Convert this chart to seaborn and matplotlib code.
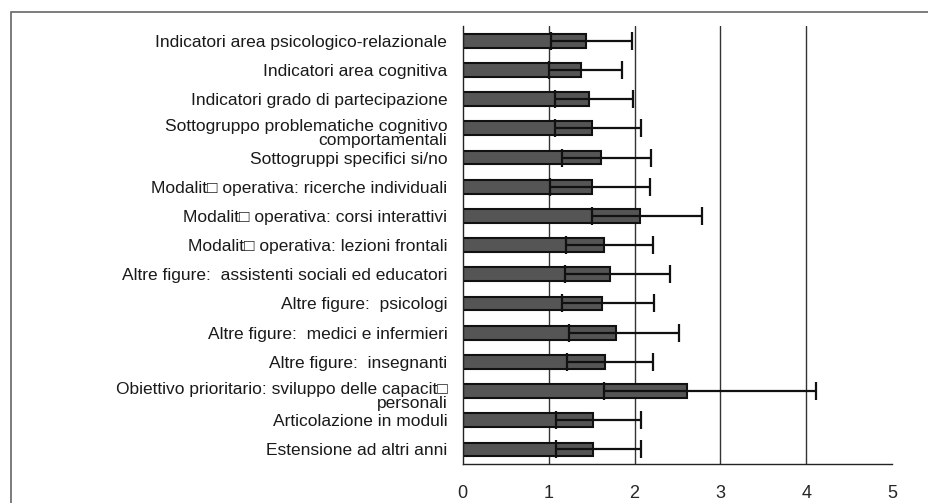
import numpy as np
import pandas as pd
import matplotlib
matplotlib.use("Agg")
import matplotlib.pyplot as plt
from matplotlib.patches import Rectangle
from matplotlib.transforms import ScaledTranslation
import seaborn as sns

# dati
categorie = [
    "Indicatori area psicologico-relazionale",
    "Indicatori area cognitiva",
    "Indicatori grado di partecipazione",
    "Sottogruppo problematiche cognitivo\ncomportamentali",
    "Sottogruppi specifici si/no",
    "Modalit\u25a1 operativa: ricerche individuali",
    "Modalit\u25a1 operativa: corsi interattivi",
    "Modalit\u25a1 operativa: lezioni frontali",
    "Altre figure:  assistenti sociali ed educatori",
    "Altre figure:  psicologi",
    "Altre figure:  medici e infermieri",
    "Altre figure:  insegnanti",
    "Obiettivo prioritario: sviluppo delle capacit\u25a1\npersonali",
    "Articolazione in moduli",
    "Estensione ad altri anni",
]
medie = [1.43, 1.38, 1.47, 1.51, 1.61, 1.50, 2.06, 1.64, 1.71, 1.62, 1.78, 1.66, 2.61, 1.52, 1.52]
limite_inf = [1.03, 1.01, 1.08, 1.07, 1.16, 1.02, 1.50, 1.20, 1.19, 1.16, 1.24, 1.22, 1.64, 1.09, 1.09]
limite_sup = [1.97, 1.85, 1.98, 2.08, 2.19, 2.18, 2.78, 2.21, 2.41, 2.23, 2.52, 2.22, 4.11, 2.07, 2.07]
tick_x = [0, 1, 2, 3, 4, 5]

df = pd.DataFrame({"categoria": categorie, "media": medie})

sns.set_style("white")
plt.rcParams["font.family"] = ["Liberation Sans", "DejaVu Sans"]

fig = plt.figure(figsize=(9.29, 5.03), dpi=100)
ax = fig.add_axes([0.498, 0.0775, 0.4625, 0.8705])

# griglia verticale dietro le barre
for v in tick_x[1:-1]:
    ax.axvline(v, color="#333333", linewidth=1.0, zorder=0)

sns.barplot(data=df, x="media", y="categoria", orient="h", color="#555555",
            edgecolor="#111111", linewidth=1.5, width=0.47, saturation=1,
            errorbar=None, ax=ax, zorder=2)

m = np.array(medie)
err = [m - np.array(limite_inf), np.array(limite_sup) - m]
ax.errorbar(m, np.arange(len(m)), xerr=err, fmt="none", ecolor="#111111",
            elinewidth=1.6, capsize=6.5, capthick=1.6, zorder=3)

ax.set_xlim(0, 5)
ax.set_ylim(len(m) - 0.5, -0.5)
ax.set_xticks(tick_x)
ax.set_xlabel("")
ax.set_ylabel("")
ax.tick_params(axis="x", labelsize=13, length=5, width=1, direction="out", pad=10, color="#222222")
ax.tick_params(axis="y", which="major", length=0, labelsize=12.5, pad=11, labelcolor="#1a1a1a")
ax.set_yticks(np.arange(-0.5, len(m), 1.0), minor=True)
ax.tick_params(axis="y", which="minor", length=4, width=1, direction="out", color="#222222")

# le etichette su due righe partono dal centro della categoria
sposta = ScaledTranslation(0, -0.04, fig.dpi_scale_trans)
for lab in ax.get_yticklabels():
    lab.set_multialignment("right")
    if "\n" in lab.get_text():
        lab.set_linespacing(0.95)
        lab.set_transform(lab.get_transform() + sposta)

for s in ["top", "right"]:
    ax.spines[s].set_visible(False)
for s in ["left", "bottom"]:
    ax.spines[s].set_color("#222222")
    ax.spines[s].set_linewidth(1.0)

# cornice esterna
top_f = 1 - 12 / 503
fig.patches.append(Rectangle((11 / 929, -0.2), 1.2, top_f + 0.2,
                             transform=fig.transFigure, fill=False,
                             edgecolor="#666666", linewidth=1.2))

fig.savefig("out.png", dpi=100)
